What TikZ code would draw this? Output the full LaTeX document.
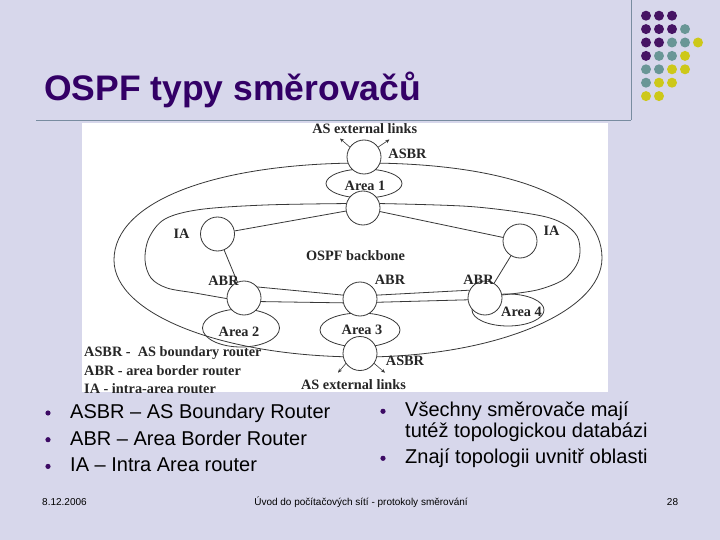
\documentclass[tikz,border=0pt]{standalone}
\usepackage{fontspec}
\setmainfont{Liberation Sans}
\newfontfamily\diagfont{Liberation Serif}
\usetikzlibrary{arrows.meta}
\definecolor{slidebg}{RGB}{215,215,235}
\definecolor{titlecol}{RGB}{51,0,102}
\definecolor{rulecol}{RGB}{120,140,160}
\definecolor{dotP}{RGB}{70,20,100}
\definecolor{dotT}{RGB}{105,150,150}
\definecolor{dotY}{RGB}{205,200,25}
\definecolor{bulcol}{RGB}{60,10,100}
\tikzset{
  dline/.style={line width=0.8pt, draw=black!78},
  router/.style={circle, minimum size=34pt, inner sep=0pt},
  dlab/.style={font=\diagfont\bfseries\fontsize{14.3}{16}\selectfont, inner sep=0pt, text=black!85},
  body/.style={font=\fontsize{20}{24}\selectfont, inner sep=0pt, anchor=base west},
  foot/.style={font=\fontsize{10}{12}\selectfont, inner sep=0pt, anchor=base},
  extarrow/.style={dline, line width=0.6pt, -{Stealth[length=4pt,width=3.5pt]}}
}
\begin{document}
\begin{tikzpicture}[x=1pt,y=-1pt]
\useasboundingbox (0,0) rectangle (720,540);
\fill[slidebg] (0,0) rectangle (720,540);
% header rules
\draw[rulecol, line width=0.8pt] (36,120) -- (631,120);
\draw[rulecol, line width=0.8pt] (631,0) -- (631,120);
% dot grid
\foreach \c/\r/\col in {0/0/dotP,1/0/dotP,2/0/dotP,
  0/1/dotP,1/1/dotP,2/1/dotP,3/1/dotT,
  0/2/dotP,1/2/dotP,2/2/dotT,3/2/dotT,4/2/dotY,
  0/3/dotP,1/3/dotT,2/3/dotT,3/3/dotY,
  0/4/dotT,1/4/dotT,2/4/dotY,3/4/dotY,
  0/5/dotT,1/5/dotY,2/5/dotY,
  0/6/dotY,1/6/dotY}
  \fill[\col] (646+13*\c,15.7+13.4*\r) circle (5);
% title
\node[anchor=base west, inner sep=0pt, text=titlecol, font=\bfseries\fontsize{35.5}{40}\selectfont] (title) at (44,101) {OSPF typy směrovačů};
% diagram
\begin{scope}
\clip (82,123) rectangle (608,392);
\fill[white] (82,123) rectangle (608,392);
% routers (positions)
\path (364,157) node[router] (asbrT) {};
\path (363,208) node[router] (a1) {};
\path (217.5,234) node[router] (iaL) {};
\path (520,241) node[router] (iaR) {};
\path (244,298) node[router] (abrL) {};
\path (360,299) node[router] (abrM) {};
\path (485,298) node[router] (abrR) {};
\path (360,353.5) node[router] (asbrB) {};
% areas
\draw[dline] (364,183.5) ellipse [x radius=38, y radius=14.5];
\draw[dline] (241,328) ellipse [x radius=38.5, y radius=19];
\draw[dline] (360,330) ellipse [x radius=40, y radius=17];
\draw[dline] (508,310) ellipse [x radius=36, y radius=16];
% outer loop
\draw[dline] (364,163) .. controls (511.6,163) and (602,199.1) .. (602,258)
  .. controls (602,312.5) and (494,357) .. (362,357)
  .. controls (223.1,357) and (114,314.3) .. (114,260)
  .. controls (114,201.8) and (214,163) .. (364,163);
% backbone loop
\draw[dline] plot[smooth, tension=0.55] coordinates {(a1.165) (265,205) (200,209.5) (165,219) (149,238) (145,260) (151,278) (167,288) (195,293) (abrL.182)};
\draw[dline] plot[smooth, tension=0.55] coordinates {(a1.15) (470,206.5) (537,215) (563,223.5) (577,236) (580,252) (576,266) (563,280) (537,290) (abrR.10)};
% links
\draw[dline] (a1) -- (iaL);
\draw[dline] (a1) -- (iaR);
\draw[dline] (iaL) -- (abrL);
\draw[dline] (iaR) -- (abrR);
\draw[dline] (abrL.40) -- (abrM.167);
\draw[dline] (abrL.-12) -- (abrM.-167);
\draw[dline] (abrM.13) -- (abrR.153);
\draw[dline] (abrM.-11) -- (abrR.-174);
% external links
\coordinate (extTL) at (340,138.5);
\coordinate (extTR) at (389.5,139.5);
\coordinate (extBL) at (338,372.7);
\coordinate (extBR) at (385,372.7);
\draw[extarrow] (asbrT.145) -- (extTL);
\draw[extarrow] (asbrT.35) -- (extTR);
\draw[extarrow] (asbrB.215) -- (extBL);
\draw[extarrow] (asbrB.-35) -- (extBR);
% router circles
\foreach \n in {asbrT,a1,iaL,iaR,abrL,abrM,abrR,asbrB}
  \draw[dline, fill=white] (\n.center) circle (17);
% labels
\node[dlab] (lExtT) at (364.7,128.5) {AS external links};
\node[dlab] (lAsbrT) at (407.5,153.5) {ASBR};
\node[dlab] (lA1) at (365,185.5) {Area 1};
\node[dlab] (lIaL) at (181.5,233.5) {IA};
\node[dlab] (lIaR) at (551.5,230.5) {IA};
\node[dlab] (lBb) at (355.5,256) {OSPF backbone};
\node[dlab] (lAbrL) at (223.5,280.5) {ABR};
\node[dlab] (lAbrM) at (390,280) {ABR};
\node[dlab] (lAbrR) at (478.5,280) {ABR};
\node[dlab] (lA2) at (239,332) {Area 2};
\node[dlab] (lA3) at (362,330) {Area 3};
\node[dlab] (lA4) at (521.5,312) {Area 4};
\node[dlab] (lAsbrB) at (405,361) {ASBR};
\node[dlab] (lExtB) at (353.5,384.5) {AS external links};
\node[dlab, anchor=base west] (leg1) at (84,356.5) {ASBR -~~AS boundary router};
\node[dlab, anchor=base west] (leg2) at (84,375) {ABR - area border router};
\node[dlab, anchor=base west] (leg3) at (84,393.5) {IA - intra-area router};
\end{scope}
% bullets left
\fill[bulcol] (48,413) circle (2.6);
\fill[bulcol] (48,439.7) circle (2.6);
\fill[bulcol] (48,466.4) circle (2.6);
\node[body] (b1) at (70,418.3) {ASBR – AS Boundary Router};
\node[body] (b2) at (70,445) {ABR – Area Border Router};
\node[body] (b3) at (70,471.7) {IA – Intra Area router};
% bullets right
\fill[bulcol] (383,411.3) circle (2.6);
\fill[bulcol] (383,458.3) circle (2.6);
\node[body] (r1) at (405,416.5) {Všechny směrovače mají};
\node[body] (r1b) at (405,437) {tutéž topologickou databázi};
\node[body] (r2) at (405,463.5) {Znají topologii uvnitř oblasti};
% footer
\node[foot, anchor=base west] (date) at (42,505) {8.12.2006};
\node[foot] (ftitle) at (361,505) {Úvod do počítačových sítí - protokoly směrování};
\node[foot] (page) at (672.5,505) {28};
\end{tikzpicture}
\end{document}
